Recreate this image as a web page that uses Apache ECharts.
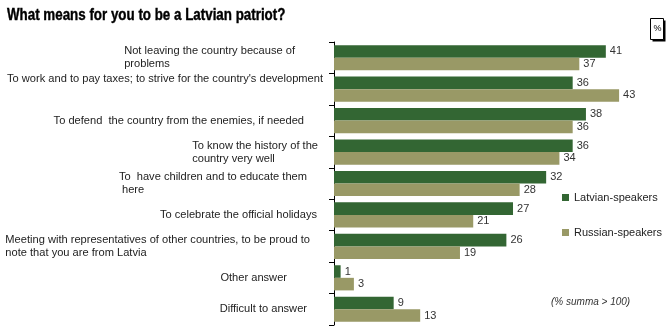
<!DOCTYPE html>
<html>
<head>
<meta charset="utf-8">
<script src="https://cdn.jsdelivr.net/npm/echarts@6/dist/echarts.min.js"></script>
<style>
html,body{margin:0;padding:0;background:#fff;}
#chart{width:670px;height:333px;}
</style>
</head>
<body>
<div id="chart"></div>
<script>
const titleText = 'What means for you to be a Latvian patriot?';
const categories = [
  "Not leaving the country because of\nproblems",
  "To work and to pay taxes; to strive for the country's development",
  "To defend  the country from the enemies, if needed",
  "To know the history of the\ncountry very well",
  "To  have children and to educate them\n here",
  "To celebrate the official holidays",
  "Meeting with representatives of other countries, to be proud to\nnote that you are from Latvia",
  "Other answer",
  "Difficult to answer"
];
const latvianSpeakers = [41, 36, 38, 36, 32, 27, 26, 1, 9];
const russianSpeakers = [37, 43, 36, 34, 28, 21, 19, 3, 13];
const seriesNames = ["Latvian-speakers", "Russian-speakers"];

const chart = echarts.init(document.getElementById('chart'), null, {renderer: 'canvas'});

// label layout: right padding (px from anchor) and vertical shift
const labelRightPad = [34, 6, 25, 11, 22, 12, 19, 42, 22];
const labelBottomPad = [0, 20, 0, 0, 0, 0, 0, 0, 0];
const rich = {};
labelRightPad.forEach((p, i) => {
  rich['s' + i] = {
    align: 'left',
    padding: [0, p, labelBottomPad[i], 0],
    fontFamily: 'Liberation Sans',
    fontSize: 11.1,
    lineHeight: 13,
    color: '#222'
  };
});

const FONT = 'Liberation Sans';
const GREEN = '#336633';
const KHAKI = '#999966';

chart.setOption({
  animation: false,
  grid: {left: 334, top: 42, height: 283, right: 4.5, containLabel: false},
  xAxis: {
    type: 'value', min: 0, max: 50,
    show: false
  },
  yAxis: {
    type: 'category',
    data: categories,
    inverse: true,
    axisLine: {show: true, lineStyle: {color: '#000', width: 1}},
    axisTick: {show: true, length: 5, lineStyle: {color: '#000'}},
    axisLabel: {
      interval: 0,
      margin: 5,
      formatter: (v, i) => '{s' + i + '|' + v + '}',
      rich: rich
    },
    splitLine: {show: false}
  },
  legend: {
    orient: 'vertical',
    left: 557, top: 187,
    itemWidth: 7, itemHeight: 7,
    itemGap: 24,
    icon: 'rect',
    textStyle: {fontFamily: FONT, fontSize: 11, color: '#222'},
    data: seriesNames
  },
  series: [
    {
      name: seriesNames[0], type: 'bar', data: latvianSpeakers,
      itemStyle: {color: GREEN},
      barGap: '0%', barCategoryGap: '20%',
      label: {show: true, position: 'right', distance: 4, fontFamily: FONT, fontSize: 11, color: '#333'}
    },
    {
      name: seriesNames[1], type: 'bar', data: russianSpeakers,
      itemStyle: {color: KHAKI},
      barGap: '0%', barCategoryGap: '20%',
      label: {show: true, position: 'right', distance: 4, fontFamily: FONT, fontSize: 11, color: '#333'}
    }
  ],
  graphic: [
    {
      type: 'text', x: 7, y: 8, scaleX: 0.835,
      style: {text: titleText, font: 'bold 16px Liberation Sans', fill: '#000', stroke: '#000', lineWidth: 0.4}
    },
    {
      type: 'text', left: 551, top: 297,
      style: {text: '(% summa > 100)', font: 'italic 10px Liberation Sans', fill: '#333'}
    },
    {
      type: 'group', left: 650, top: 18,
      children: [
        {type: 'rect', shape: {x: 2, y: 2, width: 13, height: 21}, style: {fill: '#000'}},
        {type: 'rect', shape: {x: 0, y: 0, width: 13, height: 21}, style: {fill: '#fff', stroke: '#000', lineWidth: 1}},
        {type: 'text', x: 3, y: 6, style: {text: '%', font: '9px Liberation Sans', fill: '#000'}}
      ]
    }
  ]
});
</script>
</body>
</html>
